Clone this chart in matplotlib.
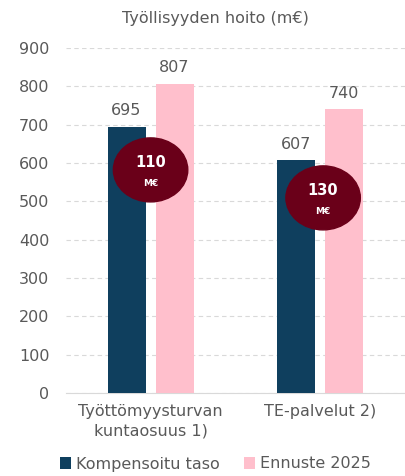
import numpy as np
import matplotlib.pyplot as plt
from matplotlib.patches import Ellipse

plt.rcParams['font.family'] = ['DejaVu Sans']

# Data
categories = ['Työttömyysturvan\nkuntaosuus 1)', 'TE-palvelut 2)']
kompensoitu = [695, 607]
ennuste = [807, 740]
erotus = [110, 130]
series_names = ['Kompensoitu taso', 'Ennuste 2025']

dark = '#0F3F5E'
pink = '#FFBFCC'
wine = '#6A0019'
grey = '#595959'

fig = plt.figure(figsize=(4.06, 4.76), dpi=100)
ax = fig.add_axes([66 / 406, 1 - 393 / 476, 340 / 406, 345 / 476])

x = np.arange(len(categories))
w = 0.225
off = 0.142
b1 = ax.bar(x - off, kompensoitu, w, color=dark, label=series_names[0], zorder=3)
b2 = ax.bar(x + off, ennuste, w, color=pink, label=series_names[1], zorder=3)

for bars, vals in [(b1, kompensoitu), (b2, ennuste)]:
    for b, v in zip(bars, vals):
        ax.text(b.get_x() + b.get_width() / 2, v + 22, str(v), ha='center', va='bottom',
                fontsize=11.5, color=grey)

# Erotus-pallot (sijainti käsin)
pallo_y = [582, 509]
pallo_x = [0.0, 0.02]
for i, d in enumerate(erotus):
    cx, cy = x[i] + pallo_x[i], pallo_y[i]
    ax.add_patch(Ellipse((cx, cy), 0.44, 167, color=wine, zorder=4))
    ax.text(cx, cy + 18, str(d), ha='center', va='center', fontsize=10.5,
            fontweight='bold', color='white', zorder=5)
    ax.text(cx, cy - 36, 'M€', ha='center', va='center', fontsize=6.5,
            fontweight='bold', color='white', zorder=5)

ax.set_xlim(-0.5, 1.51)
ax.set_ylim(0, 900)
ax.set_yticks(np.arange(0, 1000, 100))
ax.set_xticks(x)
ax.set_xticklabels(categories, linespacing=1.4)
ax.tick_params(axis='both', length=0, labelsize=11.5, labelcolor=grey)
ax.tick_params(axis='y', pad=12)
ax.tick_params(axis='x', pad=8)
ax.yaxis.grid(True, linestyle=(0, (4, 3)), color='#D9D9D9', linewidth=0.8, zorder=0)
for s in ['top', 'right', 'left']:
    ax.spines[s].set_visible(False)
ax.spines['bottom'].set_color('#D9D9D9')
ax.spines['bottom'].set_zorder(2)

fig.text(0.53, 1 - 18 / 476, 'Työllisyyden hoito (m€)', ha='center', va='center',
         fontsize=11.5, color=grey)

fig.legend(handles=[b1, b2], loc='center', bbox_to_anchor=(0.53, 1 - 464 / 476), ncol=2,
           frameon=False, fontsize=11.5, labelcolor=grey, handlelength=0.7, handleheight=0.7,
           handletextpad=0.3, columnspacing=1.5, borderpad=0)

plt.savefig('out.png', dpi=100)
